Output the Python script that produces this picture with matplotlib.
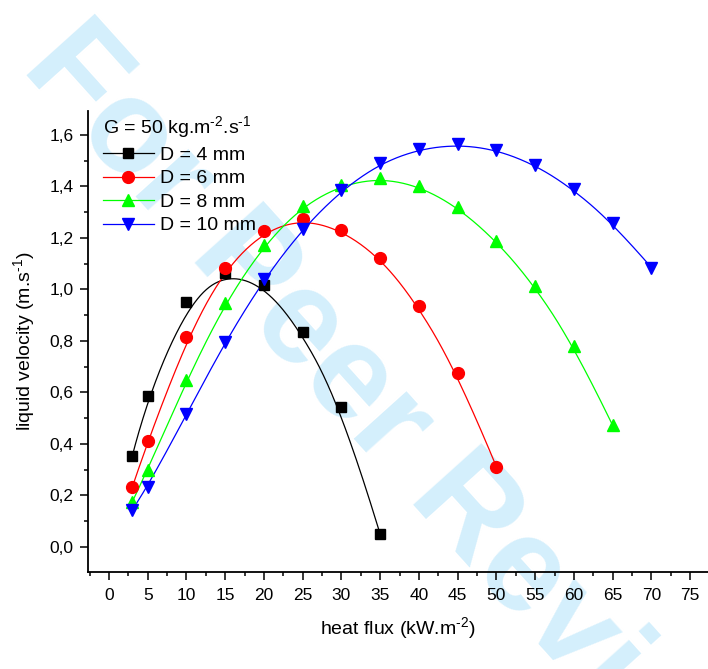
import numpy as np
import matplotlib
matplotlib.use("Agg")
import matplotlib.pyplot as plt
from matplotlib.ticker import MultipleLocator, FuncFormatter

plt.rcParams['font.family'] = ['Liberation Sans', 'DejaVu Sans']
plt.rcParams['mathtext.fontset'] = 'custom'
plt.rcParams['mathtext.rm'] = 'Liberation Sans'

# ---- data ----
x_d4 = [3, 5, 10, 15, 20, 25, 30, 35]
y_d4 = [0.353, 0.586, 0.953, 1.065, 1.017, 0.834, 0.544, 0.049]

x_d6 = [3, 5, 10, 15, 20, 25, 30, 35, 40, 45, 50]
y_d6 = [0.232, 0.410, 0.814, 1.082, 1.227, 1.274, 1.231, 1.124, 0.936, 0.674, 0.311]

x_d8 = [3, 5, 10, 15, 20, 25, 30, 35, 40, 45, 50, 55, 60, 65]
y_d8 = [0.175, 0.300, 0.648, 0.948, 1.172, 1.325, 1.405, 1.433, 1.402, 1.320, 1.188, 1.014, 0.782, 0.472]

x_d10 = [3, 5, 10, 15, 20, 25, 30, 35, 40, 45, 50, 55, 60, 65, 70]
y_d10 = [0.144, 0.234, 0.515, 0.797, 1.040, 1.236, 1.385, 1.490, 1.545, 1.563, 1.543, 1.484, 1.389, 1.258, 1.085]

labels = ['D = 4 mm', 'D = 6 mm', 'D = 8 mm', 'D = 10 mm']
colors = ['#000000', '#ff0000', '#00ff00', '#0000ff']
markers = ['s', 'o', '^', 'v']
msizes = [7, 8.5, 9, 9]
HY = '\u2010'
legend_title = 'G = 50 kg.m$^{' + HY + '2}$.s$^{' + HY + '1}$'
xlabel = 'heat flux (kW.m$^{' + HY + '2}$)'
ylabel = 'liquid velocity (m.s$^{' + HY + '1}$)'


def bspline(x, y, n=500, k=3):
    """Clamped uniform cubic B-spline using the data points as control points."""
    P = np.column_stack([np.asarray(x, float), np.asarray(y, float)])
    m = len(P)
    t = np.concatenate([np.zeros(k), np.arange(m - k + 1), np.full(k, m - k)]).astype(float)
    u = np.linspace(0, m - k, n)
    u[-1] -= 1e-9
    N = np.array([((t[i] <= u) & (u < t[i + 1])).astype(float) for i in range(len(t) - 1)])
    for d in range(1, k + 1):
        Nn = np.zeros((len(t) - 1 - d, n))
        for i in range(len(t) - 1 - d):
            a = 0.0
            den1 = t[i + d] - t[i]
            den2 = t[i + d + 1] - t[i + 1]
            if den1 > 0:
                a = a + (u - t[i]) / den1 * N[i]
            if den2 > 0:
                a = a + (t[i + d + 1] - u) / den2 * N[i + 1]
            Nn[i] = a
        N = Nn
    C = N.T @ P
    return C[:, 0], C[:, 1]


fig = plt.figure(figsize=(7.08, 6.69), dpi=100)

# watermark
fig.text(45 / 708, 1 - 45 / 669, 'For Peer Review', fontsize=96, fontweight='bold',
         color='#d4effc', rotation=-48, rotation_mode='anchor', ha='left', va='center',
         zorder=-1)

ax = fig.add_axes([88.3 / 708, 1 - 571.7 / 669, 1 - 88.3 / 708, (571.7 - 111) / 669])
ax.set_facecolor('none')
ax.set_zorder(1)

series = [(x_d4, y_d4), (x_d6, y_d6), (x_d8, y_d8), (x_d10, y_d10)]
for (xs, ys), lab, c, mk, ms in zip(series, labels, colors, markers, msizes):
    sx, sy = bspline(xs, ys)
    ax.plot(sx, sy, color=c, lw=0.9, zorder=2)
    ax.plot(xs, ys, linestyle='none', marker=mk, color=c, markersize=ms, zorder=3)
    ax.plot([], [], color=c, lw=0.9, marker=mk, markersize=ms, label=lab)

ax.set_xlim(-2.67, 77.3)
ax.set_ylim(-0.096, 1.693)
ax.xaxis.set_minor_locator(MultipleLocator(2.5))
ax.yaxis.set_major_locator(MultipleLocator(0.2))
ax.yaxis.set_minor_locator(MultipleLocator(0.1))
ax.set_xticks(np.arange(0, 80, 5))
ax.yaxis.set_major_formatter(FuncFormatter(lambda v, p: ('%.1f' % v).replace('.', ',').replace('-0,0', '0,0')))

for s in ['top', 'right']:
    ax.spines[s].set_visible(False)
for s in ['left', 'bottom']:
    ax.spines[s].set_linewidth(1.3)

ax.tick_params(which='major', direction='out', length=5.5, width=1.1, labelsize=12.5)
ax.tick_params(which='minor', direction='out', length=3, width=1.1)
ax.tick_params(axis='x', pad=6)
ax.tick_params(axis='y', pad=5)

ax.set_xlabel(xlabel, fontsize=14, labelpad=9)
ax.set_ylabel(ylabel, fontsize=14, labelpad=8)

leg = ax.legend(title=legend_title, loc='upper left',
                bbox_to_anchor=((103 - 88.3) / 619.7, (571.7 - 114) / 460.7),
                frameon=False, fontsize=14, title_fontsize=14, handlelength=2.6,
                handletextpad=0.35, labelspacing=0.3, borderpad=0, borderaxespad=0,
                alignment='left')

fig.savefig('out.png', dpi=100)
